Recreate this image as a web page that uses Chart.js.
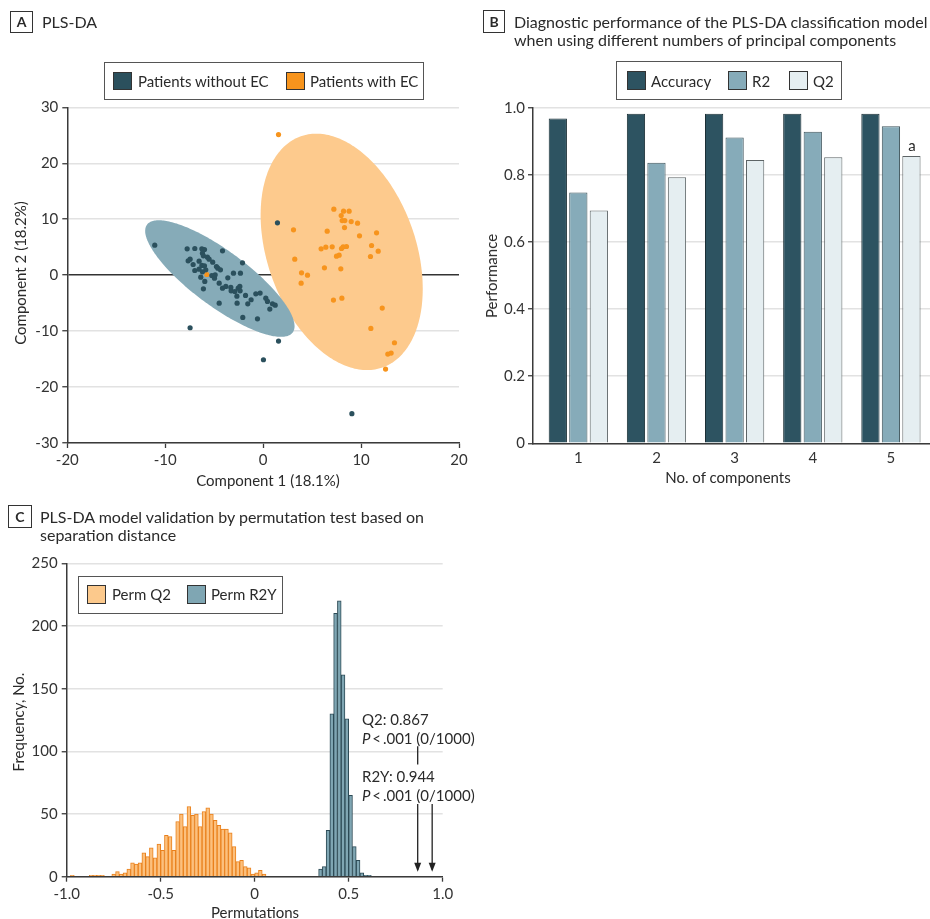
<!DOCTYPE html>
<html><head><meta charset="utf-8">
<script src="https://cdn.jsdelivr.net/npm/chart.js@4.4.1/dist/chart.umd.min.js"></script>
<style>
html,body{margin:0;padding:0;background:#fff}
body{width:930px;height:919px;position:relative;overflow:hidden;font-family:Lato,"DejaVu Sans",sans-serif;font-size:15px;color:#2a2a2a}
canvas{position:absolute;left:0;top:0}
.t{position:absolute;white-space:nowrap;line-height:18px}
.h{font-size:16px}
.c{position:absolute;white-space:nowrap;line-height:18px;transform:translate(-50%,-50%)}
.r{transform:translate(-50%,-50%) rotate(-90deg)}
.box{position:absolute;border:1.3px solid #333;box-sizing:border-box;font-weight:bold;text-align:center;font-size:14px}
.leg{position:absolute;border:1.5px solid #555;box-sizing:border-box}
.sq{position:absolute;border:1px solid #333;box-sizing:border-box}
</style>
</head><body>
<canvas id="cA" width="930" height="919"></canvas>
<canvas id="cB" width="930" height="919"></canvas>
<canvas id="cC" width="930" height="919"></canvas>

<!-- panel titles -->
<div class="box" style="left:10px;top:11px;width:23px;height:22px;line-height:20px">A</div>
<div class="t h" style="left:42px;top:13px">PLS-DA</div>
<div class="box" style="left:483px;top:10px;width:22px;height:23px;line-height:21px">B</div>
<div class="t h" style="left:514px;top:13px">Diagnostic performance of the PLS-DA classification model</div>
<div class="t h" style="left:514px;top:31px">when using different numbers of principal components</div>
<div class="box" style="left:8px;top:505px;width:24px;height:23px;line-height:21px">C</div>
<div class="t h" style="left:40px;top:508px">PLS-DA model validation by permutation test based on</div>
<div class="t h" style="left:40px;top:526px">separation distance</div>

<!-- legends -->
<div class="leg" style="left:104px;top:62px;width:320px;height:38px"></div>
<div class="sq" style="left:113px;top:72px;width:19px;height:18px;background:#2b505d"></div>
<div class="t" style="left:138px;top:72px">Patients without EC</div>
<div class="sq" style="left:286px;top:72px;width:19px;height:18px;background:#f7941d"></div>
<div class="t" style="left:310px;top:72px">Patients with EC</div>

<div class="leg" style="left:616px;top:61px;width:226px;height:39px"></div>
<div class="sq" style="left:627px;top:71px;width:19px;height:19px;background:#2d5361"></div>
<div class="t" style="left:651px;top:72px">Accuracy</div>
<div class="sq" style="left:728px;top:71px;width:19px;height:19px;background:#86abb9"></div>
<div class="t" style="left:752px;top:72px">R2</div>
<div class="sq" style="left:789px;top:71px;width:19px;height:19px;background:#e5eef1"></div>
<div class="t" style="left:813px;top:72px">Q2</div>

<div class="leg" style="left:78px;top:576px;width:205px;height:38px"></div>
<div class="sq" style="left:87px;top:585px;width:19px;height:19px;background:#fcc98c"></div>
<div class="t" style="left:112px;top:585px">Perm Q2</div>
<div class="sq" style="left:187px;top:585px;width:19px;height:19px;background:#7fa6b3"></div>
<div class="t" style="left:211px;top:585px">Perm R2Y</div>

<!-- axis titles -->
<div class="c r" style="left:20px;top:273px">Component 2 (18.2%)</div>
<div class="c" style="left:268px;top:480px">Component 1 (18.1%)</div>
<div class="c r" style="left:491px;top:276px">Performance</div>
<div class="c" style="left:728px;top:477px">No. of components</div>
<div class="c r" style="left:18px;top:722px">Frequency, No.</div>
<div class="c" style="left:255px;top:912px">Permutations</div>

<!-- annotations -->
<div class="c" style="left:912px;top:145px">a</div>
<div class="t" style="left:362px;top:710px">Q2: 0.867</div>
<div class="t" style="left:362px;top:729px"><i>P</i>&thinsp;&lt;&thinsp;.001 (0/1000)</div>
<div class="t" style="left:362px;top:767px">R2Y: 0.944</div>
<div class="t" style="left:362px;top:786px"><i>P</i>&thinsp;&lt;&thinsp;.001 (0/1000)</div>

<script>
// ---------- Panel A: PLS-DA scores ----------
const withoutEC_x = [-11.07,-7.76,-6.98,-6.26,-5.99,-4.15,-7.66,-7.46,-7.15,-6.54,-6.20,-6.10,-5.69,-5.52,-5.15,-4.77,-4.63,-4.36,-6.98,-6.54,-6.26,-5.99,-5.86,-6.37,-5.96,-6.10,-5.24,-4.97,-4.49,-4.49,-4.15,-3.81,-3.61,-3.03,-2.32,-2.11,-3.27,-2.89,-2.55,-2.38,-2.68,-2.66,-1.80,-1.57,-1.23,-0.75,-0.31,-2.08,-0.58,0.27,0.44,0.68,0.95,1.23,-7.46,1.46,1.57,0.03,9.06,-6.20,-4.90,-3.30,-2.35];
const withoutEC_y = [5.36,4.70,4.76,4.70,4.58,4.35,2.56,2.86,1.90,2.50,3.93,3.45,3.21,2.86,2.32,1.55,1.25,0.95,0.83,1.07,1.73,1.67,0.95,-0.36,-1.13,-2.44,-0.06,-0.54,-1.43,-5.00,-2.32,-2.02,-0.48,0.36,0.36,2.20,-2.80,-2.92,-2.32,-2.02,-3.75,-5.00,-3.63,-5.12,-4.40,-3.33,-3.21,-7.56,-7.80,-4.11,-4.70,-6.07,-5.12,-5.36,-9.40,9.35,-11.79,-15.12,-24.76,0.60,0.05,-2.20,-2.80];
const withEC_x = [1.57,7.22,8.21,8.78,7.97,8.07,8.34,8.99,9.64,8.31,3.10,6.54,9.84,11.58,5.92,6.40,7.05,8.00,8.17,8.51,7.49,7.76,11.07,11.75,10.96,3.23,6.26,7.93,3.92,4.53,3.88,-5.75,7.18,8.04,12.16,11.00,13.41,12.73,13.07,12.50];
const withEC_y = [25.12,11.79,11.43,11.43,10.65,9.76,9.76,9.58,9.29,8.51,8.10,7.86,7.02,7.56,4.70,5.00,5.06,4.76,5.06,5.12,3.39,3.57,5.30,4.29,3.33,2.86,1.31,1.13,0.42,0.00,-1.43,0.12,-4.46,-4.11,-5.89,-9.52,-12.08,-14.11,-13.93,-16.79];
// confidence ellipses in data units: [centerX, centerY, semiAxisU_x, semiAxisU_y, semiAxisV_x, semiAxisV_y]
const ellipseWithoutEC = [-4.42,-0.61, 7.44,-9.63, -1.68,-3.98];
const ellipseWithEC    = [ 8.02, 4.16, 4.17,-20.66, -7.15,-4.41];
const ticksA_x = [-20,-10,0,10,20];
const ticksA_y = [-30,-20,-10,0,10,20,30];

// ---------- Panel B: performance by number of components ----------
const components = [1,2,3,4,5];
const accuracy = [0.968,0.982,0.982,0.982,0.982];
const r2 = [0.747,0.836,0.911,0.928,0.945];
const q2 = [0.694,0.793,0.844,0.852,0.856];

// ---------- Panel C: permutation test histograms ----------
const binWidth = 0.02;
const permQ2Start = -1.0;
const permQ2Counts = [0,1,0,0,0,0,1,1,1,1,0,0,2,4,2,3,6,11,10,11,19,16,23,15,26,21,33,32,21,44,50,40,56,49,50,40,52,55,50,45,41,38,38,35,24,12,13,8,7,2,3,5,2];
const permR2YStart = 0.34;
const permR2YCounts = [6,8,37,130,210,220,161,126,65,24,13,3,1,1];
const observedQ2 = 0.867;
const observedR2Y = 0.944;

Chart.defaults.font.family = 'Lato, "DejaVu Sans", sans-serif';
Chart.defaults.font.size = 15;
Chart.defaults.color = '#333';
Chart.defaults.animation = false;

const AX = '#3a3a3a', GRID = '#e2e2e2';
function fixW(w){return s=>{s.width=w;};}
function fixH(h){return s=>{s.height=h;};}
function setTicks(vals){return s=>{s.ticks = vals.map(v=>({value:v}));};}

// ---- Chart A ----
const ellipsePlugin = {
  id:'ellipses',
  beforeDatasetsDraw(chart){
    const {ctx, scales:{x,y}} = chart;
    [[ellipseWithEC,'#fdca8d'],[ellipseWithoutEC,'#86abb8']].forEach(([e,col])=>{
      ctx.save(); ctx.beginPath();
      const n = 240;
      for(let i=0;i<=n;i++){
        const t = i/n*2*Math.PI;
        const dx = e[0] + e[2]*Math.cos(t) + e[4]*Math.sin(t);
        const dy = e[1] + e[3]*Math.cos(t) + e[5]*Math.sin(t);
        const px = x.getPixelForValue(dx), py = y.getPixelForValue(dy);
        if(i===0) ctx.moveTo(px,py); else ctx.lineTo(px,py);
      }
      ctx.closePath(); ctx.fillStyle = col; ctx.fill(); ctx.restore();
    });
  }
};
new Chart(document.getElementById('cA'), {
  type:'scatter',
  data:{datasets:[
    {label:'Patients without EC', data: withoutEC_x.map((v,i)=>({x:v,y:withoutEC_y[i]})), backgroundColor:'#2b505d', pointRadius:2.6, borderWidth:0},
    {label:'Patients with EC', data: withEC_x.map((v,i)=>({x:v,y:withEC_y[i]})), backgroundColor:'#f7941d', pointRadius:2.6, borderWidth:0}
  ]},
  options:{
    responsive:false, maintainAspectRatio:false,
    layout:{padding:{left:0.3, top:107.3, right:471, bottom:919-443-40}},
    plugins:{legend:{display:false}, tooltip:{enabled:false}},
    scales:{
      x:{type:'linear', min:-20, max:20, afterBuildTicks:setTicks(ticksA_x), afterFit:fixH(40),
         ticks:{padding:3, color:'#333'},
         grid:{drawOnChartArea:false, tickLength:5, tickColor:AX, tickWidth:1.3},
         border:{color:AX, width:1.5}},
      y:{type:'linear', min:-30, max:30, afterBuildTicks:setTicks(ticksA_y), afterFit:fixW(67),
         ticks:{padding:4, color:'#333'},
         grid:{color:c=>c.tick && c.tick.value===0 ? '#333' : GRID, lineWidth:c=>c.tick && c.tick.value===0 ? 1.4 : 1.5, tickLength:5, tickColor:AX, tickWidth:1.3},
         border:{color:AX, width:1.5}}
    }
  },
  plugins:[ellipsePlugin]
});

// ---- Chart B ----
new Chart(document.getElementById('cB'), {
  type:'bar',
  data:{datasets:[
    {label:'Accuracy', data: components.map((c,i)=>({x:c,y:accuracy[i]})), backgroundColor:'#2d5361', borderColor:'#1b2f36', borderWidth:1},
    {label:'R2', data: components.map((c,i)=>({x:c,y:r2[i]})), backgroundColor:'#86abb9', borderColor:'#3f545c', borderWidth:1},
    {label:'Q2', data: components.map((c,i)=>({x:c,y:q2[i]})), backgroundColor:'#e5eef1', borderColor:'#5d6466', borderWidth:1}
  ]},
  options:{
    responsive:false, maintainAspectRatio:false,
    layout:{padding:{left:480, top:107.7, right:0, bottom:919-443.3-30}},
    plugins:{legend:{display:false}, tooltip:{enabled:false}},
    datasets:{bar:{categoryPercentage:0.787, barPercentage:0.89}},
    scales:{
      x:{type:'linear', offset:false, min:0.42, max:5.5, afterBuildTicks:setTicks(components), afterFit:fixH(30),
         ticks:{padding:6, color:'#333'},
         grid:{display:true, offset:false, drawOnChartArea:false, drawTicks:false},
         border:{color:AX, width:1.5}},
      y:{type:'linear', min:0, max:1, afterBuildTicks:setTicks([0,0.2,0.4,0.6,0.8,1.0]), afterFit:fixW(53),
         ticks:{padding:3, color:'#333', callback:v=> v===0 ? '0' : v.toFixed(1)},
         grid:{color:GRID, lineWidth:1.5, tickLength:5, tickColor:AX, tickWidth:1.3},
         border:{color:AX, width:1.5}}
    }
  }
});

// ---- Chart C ----
function hist(start, counts){
  const out = [];
  counts.forEach((c,i)=>{ if(c>0) out.push({x: start + binWidth*(i+0.5), y:c}); });
  return out;
}
const arrowPlugin = {
  id:'arrows',
  afterDatasetsDraw(chart){
    const {ctx, scales:{x,y}} = chart;
    const arrows = [
      {v:observedQ2, segs:[[104,88],[58,4]]},
      {v:observedR2Y, segs:[[58,4]]}
    ];
    ctx.save(); ctx.strokeStyle='#222'; ctx.fillStyle='#222'; ctx.lineWidth=1.3;
    arrows.forEach(a=>{
      const px = x.getPixelForValue(a.v);
      a.segs.forEach(([y0,y1])=>{
        ctx.beginPath(); ctx.moveTo(px, y.getPixelForValue(y0)); ctx.lineTo(px, y.getPixelForValue(y1)-2); ctx.stroke();
      });
      const ty = y.getPixelForValue(4);
      ctx.beginPath(); ctx.moveTo(px,ty); ctx.lineTo(px-3.5,ty-9); ctx.lineTo(px+3.5,ty-9); ctx.closePath(); ctx.fill();
    });
    ctx.restore();
  }
};
new Chart(document.getElementById('cC'), {
  type:'bar',
  data:{datasets:[
    {label:'Perm Q2', data: hist(permQ2Start, permQ2Counts), backgroundColor:'#fcc07d', borderColor:'#e9801c', borderWidth:1},
    {label:'Perm R2Y', data: hist(permR2YStart, permR2YCounts), backgroundColor:'#7fa6b3', borderColor:'#2c4a55', borderWidth:1}
  ]},
  options:{
    responsive:false, maintainAspectRatio:false,
    layout:{padding:{left:0, top:563.3, right:930-442.7, bottom:919-876.7-30}},
    plugins:{legend:{display:false}, tooltip:{enabled:false}},
    datasets:{bar:{categoryPercentage:1, barPercentage:1, grouped:false}},
    scales:{
      x:{type:'linear', offset:false, min:-1, max:1, afterBuildTicks:setTicks([-1,-0.5,0,0.5,1]), afterFit:fixH(30),
         ticks:{padding:3, color:'#333', callback:v=> v===0 ? '0' : v.toFixed(1)},
         grid:{offset:false, drawOnChartArea:false, tickLength:5, tickColor:AX, tickWidth:1.3},
         border:{color:AX, width:1.5}},
      y:{type:'linear', min:0, max:250, afterBuildTicks:setTicks([0,50,100,150,200,250]), afterFit:fixW(66.7),
         ticks:{padding:4, color:'#333'},
         grid:{color:GRID, lineWidth:1.5, tickLength:5, tickColor:AX, tickWidth:1.3},
         border:{color:AX, width:1.5}}
    }
  },
  plugins:[arrowPlugin]
});
</script>
</body></html>
